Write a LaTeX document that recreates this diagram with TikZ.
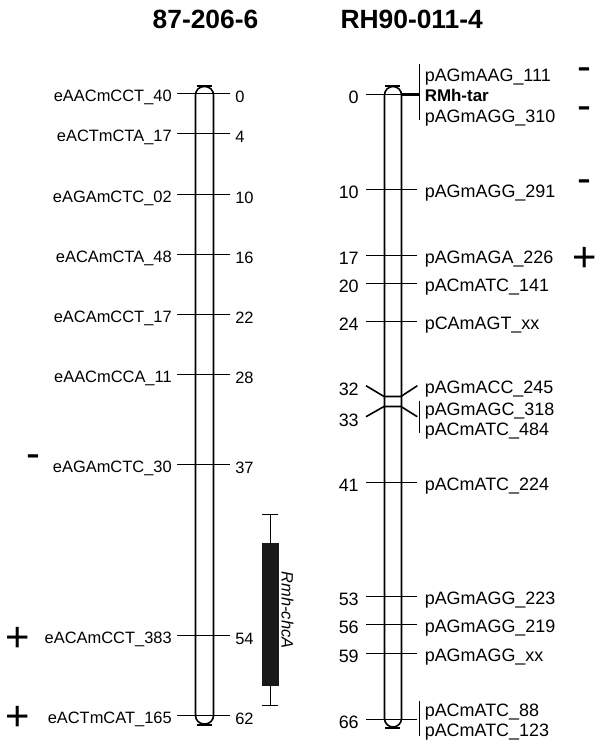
\documentclass[tikz,border=0pt]{standalone}
\usepackage{fontspec}
\setmainfont{Liberation Sans}
\begin{document}
\begin{tikzpicture}[x=1bp,y=-1bp,line width=1.6bp,
  lab/.style={inner sep=0pt,font=\fontsize{16.5}{18}\selectfont},
  rlab/.style={inner sep=0pt,font=\fontsize{18}{20}\selectfont},
  ttl/.style={inner sep=0pt,font=\fontsize{26.5}{28}\selectfont\bfseries},
  sign/.style={inner sep=0pt,font=\fontsize{42}{44}\selectfont},
  chrom/.style={draw,rounded corners=8.5bp},
  tickline/.style={draw,line width=1.6bp}]
\useasboundingbox (0,0) rectangle (596,744);
% titles
\node[ttl,anchor=base] (t1) at (205.5,28.3) {87-206-6};
\node[ttl,anchor=base] (t2) at (411.7,28.3) {RH90-011-4};
% left chromosome
\draw[chrom] (195.5,86.5) rectangle (213.5,724);
\draw (196.7,86) -- (212.3,86);
\draw (196.7,724.8) -- (212.3,724.8);
\foreach \c/\t [count=\i] in {0/eAACmCCT\_40,4/eACTmCTA\_17,10/eAGAmCTC\_02,16/eACAmCTA\_48,22/eACAmCCT\_17,28/eAACmCCA\_11,37/eAGAmCTC\_30,54/eACAmCCT\_383,62/eACTmCAT\_165}{
  \pgfmathsetmacro\yy{round(93.3+10.03*\c)+0.5}
  \coordinate (La\i) at (177,\yy);
  \coordinate (Lb\i) at (230,\yy);
  \draw[tickline] (La\i) -- (Lb\i);
  \node[lab,anchor=base east] (Ln\i) at (172.5,\yy+8) {\t};
  \node[lab,anchor=base west] (Lc\i) at (234.5,\yy+9) {\c};
}
% QTL bar
\coordinate (qt) at (270.5,514);
\coordinate (qb) at (270.5,705);
\draw (qt) -- (qb);
\draw (262,514.5) -- (278,514.5);
\draw (262,705.5) -- (278,705.5);
\fill[black!90] (261.7,543.3) rectangle (279,685.7);
\node[lab,rotate=-90,font=\fontsize{16.5}{18}\selectfont\itshape] (qtl) at (287.5,610) {Rmh-chcA};
% left signs
\node[sign] (sL1) at (33,461.3) {-};
\node[sign] (sL2) at (17.8,639) {+};
\node[sign] (sL3) at (17.8,718.5) {+};
% right chromosome
\draw[chrom] (384.5,86.5) rectangle (401.5,727);
\draw (385,86) -- (400,86);
\draw (385,727.7) -- (400,727.7);
\foreach \c/\t [count=\i] in {10/pAGmAGG\_291,17/pAGmAGA\_226,20/pACmATC\_141,24/pCAmAGT\_xx,41/pACmATC\_224,53/pAGmAGG\_223,56/pAGmAGG\_219,59/pAGmAGG\_xx}{
  \pgfmathsetmacro\yy{round(94+9.47*\c)+0.5}
  \coordinate (Ra\i) at (366,\yy);
  \coordinate (Rb\i) at (417.3,\yy);
  \draw[tickline] (Ra\i) -- (Rb\i);
  \node[rlab,anchor=base west] (Rn\i) at (424,\yy+8.3) {\t};
  \node[rlab,anchor=base east] (Rc\i) at (359.5,\yy+9) {\c};
}
% top group (0)
\coordinate (R0a) at (366,94.5);
\coordinate (R0b) at (401,94.5);
\coordinate (R0c) at (419.5,94.5);
\draw (R0a) -- (R0b);
\draw[line width=3bp] (R0b) -- (R0c);
\draw (419.5,64.3) -- (419.5,120);
\node[rlab,anchor=base east] (R0n) at (359.5,103.5) {0};
\node[rlab,anchor=base west] (R0l1) at (424,81) {pAGmAAG\_111};
\node[rlab,anchor=base west,font=\fontsize{17}{18}\selectfont\bfseries] (R0l2) at (424,101) {RMh-tar};
\node[rlab,anchor=base west] (R0l3) at (424,122.3) {pAGmAGG\_310};
% 32/33 group
\draw (366,385.7) -- (384,396.5) -- (401,396.5) -- (417.3,385.7);
\draw (366,416.7) -- (384,406.5) -- (401,406.5) -- (417.3,416.7);
\draw (419.5,400.7) -- (419.5,432.7);
\node[rlab,anchor=base east] (R32n) at (359.5,395) {32};
\node[rlab,anchor=base east] (R33n) at (359.5,426.7) {33};
\node[rlab,anchor=base west] (R32l) at (424,393.3) {pAGmACC\_245};
\node[rlab,anchor=base west] (R33l1) at (424,415) {pAGmAGC\_318};
\node[rlab,anchor=base west] (R33l2) at (424,435.7) {pACmATC\_484};
% 66 group
\coordinate (R66a) at (366,719.5);
\coordinate (R66b) at (417.3,719.5);
\draw (R66a) -- (R66b);
\draw (419.5,701) -- (419.5,736);
\node[rlab,anchor=base east] (R66n) at (359.5,728.3) {66};
\node[rlab,anchor=base west] (R66l1) at (424,716.7) {pACmATC\_88};
\node[rlab,anchor=base west] (R66l2) at (424,736.7) {pACmATC\_123};
% right signs
\node[sign] (sR1) at (584,73.7) {-};
\node[sign] (sR2) at (584,113) {-};
\node[sign] (sR3) at (584,186.2) {-};
\node[sign] (sR4) at (584.5,259) {+};
\end{tikzpicture}
\end{document}
